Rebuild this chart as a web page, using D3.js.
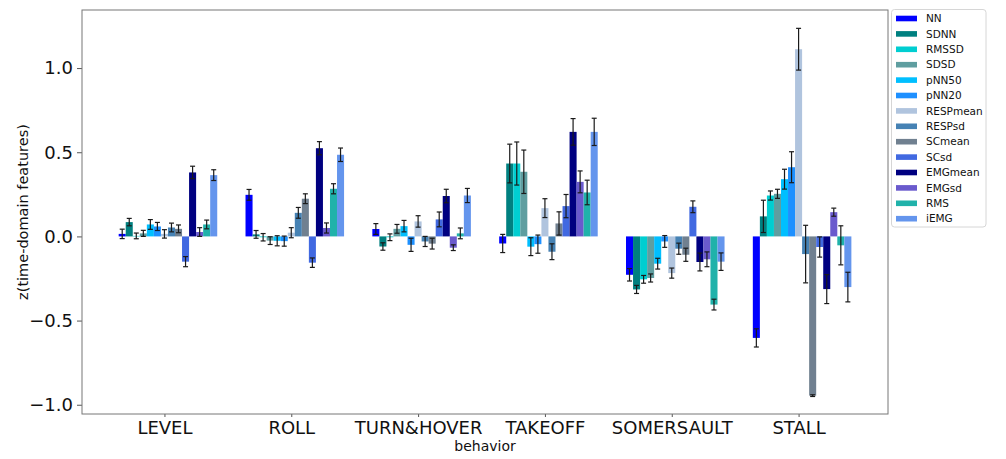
<!DOCTYPE html>
<html>
<head>
<meta charset="utf-8">
<script src="https://cdn.jsdelivr.net/npm/d3@7/dist/d3.min.js"></script>
<style>
  html, body { margin: 0; padding: 0; background: #fff; }
  svg { display: block; font-family: "DejaVu Sans", sans-serif; }
</style>
</head>
<body>
<svg id="chart" width="1006" height="459"></svg>
<script>
// Behaviours on the x axis
const behaviors = ["LEVEL", "ROLL", "TURN&HOVER", "TAKEOFF", "SOMERSAULT", "STALL"];

// Time-domain features (one bar each per behaviour)
const features = ["NN", "SDNN", "RMSSD", "SDSD", "pNN50", "pNN20", "RESPmean",
                  "RESPsd", "SCmean", "SCsd", "EMGmean", "EMGsd", "RMS", "iEMG"];
const featureColors = ["#0000ff", "#008080", "#00ced1", "#5f9ea0", "#00bfff", "#1e90ff",
                       "#b0c4de", "#4682b4", "#708090", "#4169e1", "#000080", "#6a5acd",
                       "#20b2aa", "#6495ed"];

// Mean z-scores per behaviour, in feature order
const levelMean      = [0.015, 0.085, 0.003, 0.018, 0.071, 0.059, 0.015, 0.053, 0.045, -0.150, 0.380, 0.026, 0.071, 0.364];
const rollMean       = [0.247, 0.012, -0.005, -0.025, -0.026, -0.028, 0.022, 0.140, 0.224, -0.156, 0.524, 0.050, 0.283, 0.485];
const turnHoverMean  = [0.044, -0.060, -0.005, 0.045, 0.061, -0.050, 0.089, -0.030, -0.043, 0.101, 0.240, -0.067, 0.018, 0.243];
const takeoffMean    = [-0.042, 0.433, 0.433, 0.384, -0.061, -0.046, 0.168, -0.091, 0.077, 0.180, 0.621, 0.324, 0.261, 0.621];
const somersaultMean = [-0.228, -0.315, -0.255, -0.247, -0.162, -0.030, -0.218, -0.073, -0.109, 0.176, -0.152, -0.136, -0.405, -0.150];
const stallMean      = [-0.603, 0.119, 0.243, 0.253, 0.340, 0.411, 1.112, -0.105, -0.946, -0.063, -0.313, 0.144, -0.053, -0.301];

// Standard errors per behaviour, in feature order
const levelErr      = [0.028, 0.022, 0.017, 0.018, 0.029, 0.024, 0.025, 0.026, 0.023, 0.030, 0.037, 0.026, 0.026, 0.032];
const rollErr       = [0.032, 0.023, 0.022, 0.023, 0.030, 0.030, 0.030, 0.032, 0.029, 0.028, 0.039, 0.030, 0.030, 0.040];
const turnHoverErr  = [0.032, 0.022, 0.020, 0.026, 0.034, 0.039, 0.034, 0.030, 0.032, 0.044, 0.040, 0.017, 0.032, 0.042];
const takeoffErr    = [0.054, 0.115, 0.128, 0.129, 0.053, 0.054, 0.056, 0.047, 0.069, 0.069, 0.079, 0.065, 0.073, 0.081];
const somersaultErr = [0.037, 0.024, 0.023, 0.024, 0.032, 0.035, 0.030, 0.033, 0.039, 0.035, 0.053, 0.044, 0.032, 0.052];
const stallErr      = [0.054, 0.096, 0.027, 0.027, 0.059, 0.092, 0.124, 0.171, 0.005, 0.060, 0.086, 0.024, 0.116, 0.088];

const yTicks = [-1.0, -0.5, 0.0, 0.5, 1.0];

const meansByBehavior = [levelMean, rollMean, turnHoverMean, takeoffMean, somersaultMean, stallMean];
const errsByBehavior  = [levelErr, rollErr, turnHoverErr, takeoffErr, somersaultErr, stallErr];

// Layout
const plot = { left: 82, right: 888, top: 10, bottom: 414 };
const barWidth = 0.0555;            // in category units
const xDomain = [-0.65, 5.705];
const yDomain = [-1.055, 1.345];

const svg = d3.select("#chart");

const x = d3.scaleLinear().domain(xDomain).range([plot.left, plot.right]);
const y = d3.scaleLinear().domain(yDomain).range([plot.bottom, plot.top]);

// Flatten into bar records
const bars = [];
behaviors.forEach((b, bi) => {
  features.forEach((f, fi) => {
    bars.push({
      behavior: b, feature: f,
      pos: bi + (fi - 6) * barWidth,
      value: meansByBehavior[bi][fi],
      err: errsByBehavior[bi][fi],
      color: featureColors[fi]
    });
  });
});

const plotArea = svg.append("g");

// Bars
plotArea.selectAll("rect.bar")
  .data(bars)
  .enter().append("rect")
  .attr("class", "bar")
  .attr("x", d => x(d.pos - barWidth / 2))
  .attr("width", d => x(d.pos + barWidth / 2) - x(d.pos - barWidth / 2))
  .attr("y", d => y(Math.max(0, d.value)))
  .attr("height", d => Math.abs(y(d.value) - y(0)))
  .attr("fill", d => d.color);

// Error bars
const eb = plotArea.selectAll("g.err")
  .data(bars)
  .enter().append("g")
  .attr("class", "err")
  .attr("stroke", "#1a1a1a")
  .attr("stroke-width", 1.2);

eb.append("line")
  .attr("x1", d => x(d.pos)).attr("x2", d => x(d.pos))
  .attr("y1", d => y(d.value - d.err)).attr("y2", d => y(d.value + d.err));
eb.append("line")
  .attr("x1", d => x(d.pos) - 2.5).attr("x2", d => x(d.pos) + 2.5)
  .attr("y1", d => y(d.value + d.err)).attr("y2", d => y(d.value + d.err));
eb.append("line")
  .attr("x1", d => x(d.pos) - 2.5).attr("x2", d => x(d.pos) + 2.5)
  .attr("y1", d => y(d.value - d.err)).attr("y2", d => y(d.value - d.err));

// Axes
const fmt = v => d3.format(".1f")(v).replace("-", "\u2212");

const yAxis = svg.append("g")
  .attr("transform", `translate(${plot.left},0)`)
  .call(d3.axisLeft(y).tickValues(yTicks).tickFormat(fmt).tickSize(5).tickPadding(4));
yAxis.select(".domain").remove();
yAxis.selectAll(".tick line").attr("stroke", "#555");
yAxis.selectAll(".tick text")
  .attr("font-size", 18).attr("fill", "#111")
  .attr("font-family", "DejaVu Sans, sans-serif");

const xAxis = svg.append("g")
  .attr("transform", `translate(0,${plot.bottom})`)
  .call(d3.axisBottom(x).tickValues(d3.range(behaviors.length))
        .tickFormat(i => behaviors[i]).tickSize(3).tickPadding(4));
xAxis.select(".domain").remove();
xAxis.selectAll(".tick line").attr("stroke", "#555");
xAxis.selectAll(".tick text")
  .attr("font-size", 18).attr("fill", "#111")
  .attr("font-family", "DejaVu Sans, sans-serif");

// Frame
svg.append("rect")
  .attr("x", plot.left).attr("y", plot.top)
  .attr("width", plot.right - plot.left).attr("height", plot.bottom - plot.top)
  .attr("fill", "none").attr("stroke", "#777").attr("stroke-width", 1);

// Axis titles
svg.append("text")
  .attr("x", (plot.left + plot.right) / 2).attr("y", 451)
  .attr("text-anchor", "middle").attr("font-size", 14).attr("fill", "#111")
  .text("behavior");

svg.append("text")
  .attr("transform", `translate(28,${(plot.top + plot.bottom) / 2}) rotate(-90)`)
  .attr("text-anchor", "middle").attr("font-size", 14.5).attr("fill", "#111")
  .text("z(time-domain features)");

// Legend
const legend = svg.append("g");
legend.append("rect")
  .attr("x", 891.5).attr("y", 9.5).attr("width", 94.5).attr("height", 217.5)
  .attr("rx", 3).attr("fill", "#fff").attr("stroke", "#d6d6d6").attr("stroke-width", 1);

const items = legend.selectAll("g.item")
  .data(features)
  .enter().append("g")
  .attr("class", "item")
  .attr("transform", (d, i) => `translate(0,${18.5 + i * 15.4})`);
items.append("rect")
  .attr("x", 896).attr("y", -2.8).attr("width", 21).attr("height", 5.6)
  .attr("fill", (d, i) => featureColors[i]);
items.append("text")
  .attr("x", 926).attr("y", 0).attr("dy", "0.35em")
  .attr("font-size", 10.5).attr("fill", "#111")
  .text(d => d);
</script>
</body>
</html>
